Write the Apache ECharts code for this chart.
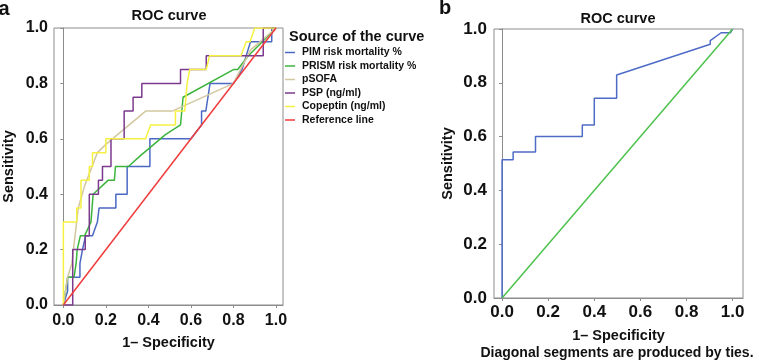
<!DOCTYPE html>
<html>
<head>
<meta charset="utf-8">
<script src="https://cdn.jsdelivr.net/npm/echarts@6/dist/echarts.min.js"></script>
<style>
  html, body { margin: 0; padding: 0; background: #fff; }
  #chart { width: 759px; height: 364px; }
</style>
</head>
<body>
<div id="chart"></div>
<script>
// ticks shared by both panels
const ticks = [0, 0.2, 0.4, 0.6, 0.8, 1.0];

// panel a: ROC curves (1 - specificity, sensitivity)
const pimX = [0, 0.02, 0.02, 0.078, 0.078, 0.09, 0.105, 0.137, 0.16, 0.168, 0.247, 0.247, 0.3, 0.3, 0.407, 0.407, 0.6, 0.65, 0.65, 0.67, 0.69, 0.8, 0.84, 0.86, 0.88, 0.98, 0.98, 1];
const pimY = [0, 0.05, 0.1, 0.1, 0.15, 0.2, 0.25, 0.25, 0.3, 0.35, 0.35, 0.4, 0.4, 0.5, 0.5, 0.6, 0.6, 0.65, 0.7, 0.7, 0.8, 0.8, 0.85, 0.9, 0.95, 0.95, 1, 1];

const prismX = [0, 0.02, 0.05, 0.06, 0.065, 0.08, 0.1, 0.13, 0.14, 0.21, 0.24, 0.245, 0.306, 0.364, 0.48, 0.551, 0.563, 0.8, 0.82, 0.87, 1];
const prismY = [0, 0.1, 0.1, 0.15, 0.2, 0.25, 0.25, 0.3, 0.4, 0.45, 0.45, 0.5, 0.5, 0.54, 0.615, 0.65, 0.75, 0.85, 0.85, 0.9, 1];

const psofaX = [0, 0.02, 0.04, 0.07, 0.1, 0.16, 0.2, 0.387, 0.512, 0.8, 0.88, 1];
const psofaY = [0, 0.1, 0.15, 0.35, 0.43, 0.55, 0.58, 0.7, 0.7, 0.8, 0.92, 1];

const pspX = [0, 0.044, 0.044, 0.103, 0.103, 0.122, 0.122, 0.165, 0.165, 0.184, 0.184, 0.224, 0.224, 0.286, 0.286, 0.328, 0.328, 0.369, 0.369, 0.551, 0.551, 0.672, 0.672, 0.94, 0.94, 1];
const pspY = [0, 0, 0.2, 0.2, 0.25, 0.25, 0.4, 0.4, 0.45, 0.45, 0.5, 0.5, 0.6, 0.6, 0.7, 0.7, 0.75, 0.75, 0.8, 0.8, 0.85, 0.85, 0.9, 0.9, 1, 1];

const copeptinX = [0, 0, 0.063, 0.063, 0.083, 0.083, 0.122, 0.122, 0.137, 0.137, 0.2, 0.2, 0.387, 0.41, 0.527, 0.527, 0.571, 0.582, 0.594, 0.672, 0.688, 0.835, 0.86, 0.878, 0.9, 1];
const copeptinY = [0, 0.3, 0.3, 0.35, 0.35, 0.45, 0.45, 0.5, 0.5, 0.55, 0.55, 0.6, 0.6, 0.65, 0.65, 0.7, 0.7, 0.8, 0.85, 0.85, 0.9, 0.9, 0.95, 0.95, 1, 1];

const refX = [0, 1];
const refY = [0, 1];

// panel b: single ROC curve
const bX = [0, 0, 0.048, 0.048, 0.145, 0.145, 0.348, 0.348, 0.4, 0.4, 0.497, 0.497, 0.903, 0.903, 0.95, 0.99, 1];
const bY = [0, 0.514, 0.514, 0.543, 0.543, 0.6, 0.6, 0.643, 0.643, 0.743, 0.743, 0.829, 0.943, 0.957, 0.986, 0.986, 1];

const zip = (xs, ys) => xs.map((x, i) => [x, ys[i]]);

const FONT = '"Liberation Sans", Arial, sans-serif';
const GREY = '#8c8c8c';
// thin horizontal bar used as legend key
const LINE_ICON = 'path://M0,0 M10,10 M0,4.25 L10,4.25 L10,5.75 L0,5.75 Z';

function xAxis(grid, min, max, size, margin) {
  return {
    type: 'value', gridIndex: grid, min: min, max: max,
    name: '1\u2013 Specificity', nameLocation: 'middle', nameGap: 30,
    nameTextStyle: { fontFamily: FONT, fontWeight: 'bold', fontSize: 14.5, color: '#111' },
    axisLine: { show: true, lineStyle: { color: GREY, width: 1 } },
    axisTick: { show: true, length: 3, customValues: ticks, lineStyle: { color: GREY } },
    axisLabel: {
      customValues: ticks, margin: margin, fontFamily: FONT, fontWeight: 'bold',
      fontSize: size, color: '#111', formatter: v => v.toFixed(1)
    },
    splitLine: { show: false }
  };
}

function yAxis(grid, size, margin, gap) {
  return {
    type: 'value', gridIndex: grid, min: 0, max: 1,
    name: 'Sensitivity', nameLocation: 'middle', nameGap: gap,
    nameTextStyle: { fontFamily: FONT, fontWeight: 'bold', fontSize: 14.5, color: '#111' },
    axisLine: { show: true, lineStyle: { color: GREY, width: 1 } },
    axisTick: { show: true, length: 3, customValues: ticks, lineStyle: { color: GREY } },
    axisLabel: {
      customValues: ticks, margin: margin, fontFamily: FONT, fontWeight: 'bold',
      fontSize: size, color: '#111', formatter: v => v.toFixed(1)
    },
    splitLine: { show: false }
  };
}

function curve(name, xs, ys, color, axis) {
  return {
    name: name, type: 'line', xAxisIndex: axis, yAxisIndex: axis,
    data: zip(xs, ys), symbol: 'none', showSymbol: false,
    lineStyle: { color: color, width: 1.5 }, itemStyle: { color: color },
    emphasis: { disabled: true }, silent: true
  };
}

const text = (t, x, y, size, align) => ({
  type: 'text', x: x, y: y,
  style: {
    text: t, fontFamily: FONT, fontWeight: 'bold', fontSize: size, fill: '#111',
    textAlign: align || 'center', textVerticalAlign: 'middle'
  }
});

const option = {
  animation: false,
  backgroundColor: '#fff',
  grid: [
    { left: 53, top: 28, width: 230, height: 277, show: true, borderColor: GREY, borderWidth: 1 },
    { left: 494, top: 29, width: 249, height: 269, show: true, borderColor: GREY, borderWidth: 1 }
  ],
  xAxis: [xAxis(0, -0.044, 1.033, 16, 8), xAxis(1, -0.035, 1.045, 17, 6)],
  yAxis: [yAxis(0, 16, 6, 38), yAxis(1, 17, 7, 39)],
  legend: {
    orient: 'vertical', left: 285, top: 47, padding: 0,
    itemWidth: 10, itemHeight: 10, itemGap: 2.5,
    icon: LINE_ICON, symbolKeepAspect: true,
    data: ['PIM risk mortality %', 'PRISM risk mortality %', 'pSOFA', 'PSP (ng/ml)', 'Copeptin (ng/ml)', 'Reference line'],
    textStyle: { fontFamily: FONT, fontWeight: 'bold', fontSize: 10.5, color: '#111', padding: [0, 0, 0, 2] },
    selectedMode: false
  },
  graphic: [
    text('a', 4, 9, 20),
    text('b', 445, 8, 20),
    text('ROC curve', 169, 16, 14.5),
    text('ROC curve', 618, 18.5, 14.5),
    text('Source of the curve', 289, 37, 14.5, 'left'),
    text('Diagonal segments are produced by ties.', 617, 353, 14)
  ],
  series: [
    curve('PIM risk mortality %', pimX, pimY, '#4a68c4', 0),
    curve('PRISM risk mortality %', prismX, prismY, '#3cb43c', 0),
    curve('pSOFA', psofaX, psofaY, '#d3c7a0', 0),
    curve('PSP (ng/ml)', pspX, pspY, '#7b3a8e', 0),
    curve('Copeptin (ng/ml)', copeptinX, copeptinY, '#f6f140', 0),
    curve('Reference line', refX, refY, '#f03c3c', 0),
    curve('b curve', bX, bY, '#4e6cc6', 1),
    curve('b reference', refX, refY, '#4cc24c', 1)
  ]
};

const chart = echarts.init(document.getElementById('chart'), null, { renderer: 'canvas' });
chart.setOption(option);
</script>
</body>
</html>
